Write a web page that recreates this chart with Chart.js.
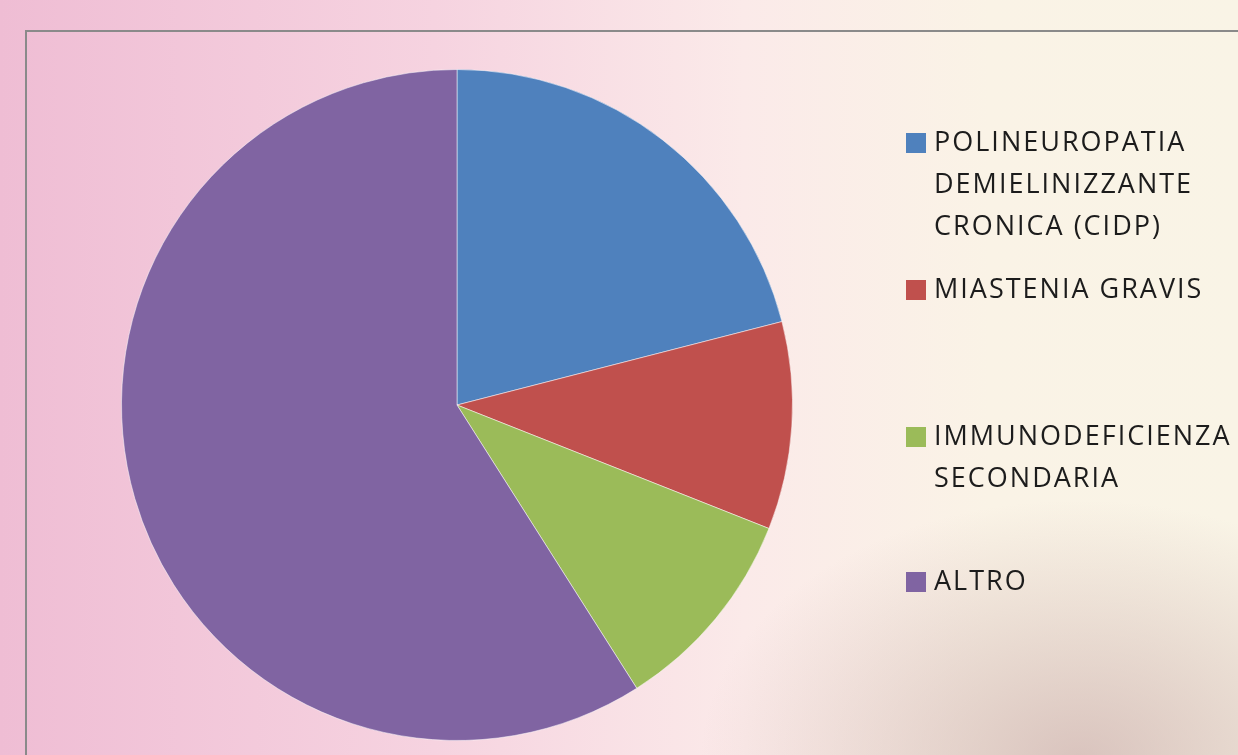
<!DOCTYPE html>
<html>
<head>
<meta charset="utf-8">
<script src="https://cdn.jsdelivr.net/npm/chart.js@4/dist/chart.umd.min.js"></script>
<style>
    html, body { margin: 0; padding: 0; }
    body {
        width: 1238px; height: 755px; overflow: hidden; position: relative;
        background:
            radial-gradient(ellipse 380px 260px at 1080px 760px, rgba(200,170,168,0.65), rgba(200,170,168,0) 100%),
            linear-gradient(to right, #efbdd4 0%, #f6d3e0 35%, #fbeae9 60%, #faf3e6 80%, #f9f4e6 100%);
    }
    #frame {
        position: absolute; left: 25px; top: 30px; width: 1300px; height: 800px;
        border: 2px solid #8a8a8a;
    }
    #wrap { position: absolute; left: 0; top: 0; width: 1238px; height: 755px; }
</style>
</head>
<body>
<div id="frame"></div>
<div id="wrap"><canvas id="pieChart"></canvas></div>
<script>
//..categories (split in lines like the legend shows them)
const categories = [
    ['POLINEUROPATIA', 'DEMIELINIZZANTE', 'CRONICA (CIDP)'],
    ['MIASTENIA GRAVIS'],
    ['IMMUNODEFICIENZA', 'SECONDARIA'],
    ['ALTRO']
];
const values = [21, 10, 10, 59];
const colors = ['#4f81bd', '#c0504d', '#9bbb59', '#8064a2'];

//..legend drawn at the right, multi-line labels
const legendTop = [143, 290, 437, 582];
const sideLegend = {
    id: 'sideLegend',
    afterDraw(chart) {
        const ctx = chart.ctx;
        ctx.save();
        ctx.font = '27px "Open Sans", sans-serif';
        ctx.letterSpacing = '2px';
        ctx.textBaseline = 'middle';
        categories.forEach((lines, i) => {
            const y = legendTop[i];
            ctx.fillStyle = colors[i];
            ctx.fillRect(906, y - 10, 20, 20);
            ctx.fillStyle = '#1c1c1c';
            lines.forEach((line, j) => {
                ctx.fillText(line, 934, y + j * 42);
            });
        });
        ctx.restore();
    }
};

new Chart(document.getElementById('pieChart'), {
    type: 'pie',
    data: {
        labels: categories.map(c => c.join(' ')),
        datasets: [{
            data: values,
            backgroundColor: colors,
            borderColor: 'rgba(255,255,255,0.5)',
            borderWidth: 1
        }]
    },
    options: {
        responsive: true,
        maintainAspectRatio: false,
        animation: false,
        layout: {
            padding: { left: 121, right: 445, top: 69, bottom: 14 }
        },
        plugins: {
            legend: { display: false },
            tooltip: { enabled: false }
        }
    },
    plugins: [sideLegend]
});
</script>
</body>
</html>
